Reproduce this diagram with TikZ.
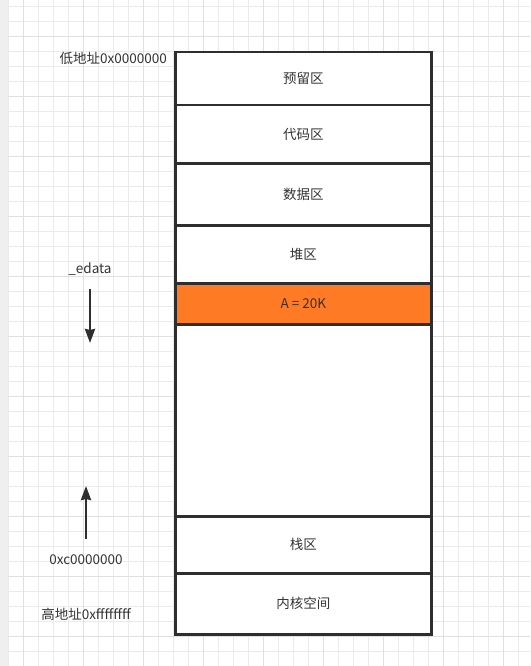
\documentclass[tikz,border=0pt]{standalone}
\usepackage{fontspec}
\setmainfont{Noto Sans CJK SC}
\usetikzlibrary{arrows.meta}
\definecolor{ink}{HTML}{2E2E2E}
\definecolor{txt}{HTML}{333333}
\definecolor{gridminor}{HTML}{EBEBEB}
\definecolor{gridmajor}{HTML}{E0E0E0}
\definecolor{heap}{HTML}{FE7A25}
\definecolor{strip}{HTML}{EFEFEF}
\begin{document}
\begin{tikzpicture}[x=1pt,y=-1pt,
  region/.style={draw=ink, line width=2.5pt, fill=white, rectangle, inner sep=0pt,
    minimum width=256pt, anchor=north west, font=\fontsize{13.5}{15}\selectfont, text=txt},
  note/.style={font=\fontsize{13.5}{15}\selectfont, text=txt, inner sep=0pt},
  growth/.style={draw=ink, line width=2.5pt, -{Stealth[length=14pt,width=10pt,inset=1pt]}}]
  % canvas and background grid
  \useasboundingbox (0,0) rectangle (530,666);
  \fill[white] (0,0) rectangle (530,666);
  \fill[strip] (0,0) rectangle (8,666);
  \foreach \i in {0,...,34} {
    \pgfmathsetmacro{\gx}{8.3+15*\i}
    \draw[gridminor, line width=0.8pt] (\gx,0) -- (\gx,666);
  }
  \foreach \j in {0,...,44} {
    \pgfmathsetmacro{\gy}{6.7+15*\j}
    \draw[gridminor, line width=0.8pt] (8,\gy) -- (530,\gy);
  }
  \foreach \i in {1,5,9,13,17,21,25,29,33} {
    \pgfmathsetmacro{\gx}{8.3+15*\i}
    \draw[gridmajor, line width=0.8pt] (\gx,0) -- (\gx,666);
  }
  \foreach \j in {2,6,10,14,18,22,26,30,34,38,42} {
    \pgfmathsetmacro{\gy}{6.7+15*\j}
    \draw[gridmajor, line width=0.8pt] (8,\gy) -- (530,\gy);
  }
  % memory layout, low addresses at the top
  \node[region, minimum height=53pt] (reserved) at (174,51) {预留区};
  \node[region, minimum height=58pt] (code) at (174,104) {代码区};
  \node[region, minimum height=62pt] (data) at (174,162) {数据区};
  \node[region, minimum height=58pt] (heapzone) at (174,224) {堆区};
  \node[region, minimum height=41pt, fill=heap] (alloc) at (174,282) {A = 20K};
  \node[region, minimum height=192pt] (gap) at (174,323) {};
  \node[region, minimum height=57pt] (stack) at (174,515) {栈区};
  \node[region, minimum height=61pt] (kernel) at (174,572) {内核空间};
  % address labels
  \node[note, anchor=east] (low) at (167,58) {低地址0x0000000};
  \node[note] (edata) at (90,269) {\_edata};
  \node[note] (stacktop) at (86,560) {0xc0000000};
  \node[note] (high) at (86,614) {高地址0xffffffff};
  % growth directions
  \coordinate (brkfrom) at (90,289);
  \coordinate (brkto) at (90,343);
  \coordinate (spfrom) at (86,539);
  \coordinate (spto) at (86,486);
  \draw[growth] (brkfrom) -- (brkto);
  \draw[growth] (spfrom) -- (spto);
\end{tikzpicture}
\end{document}
